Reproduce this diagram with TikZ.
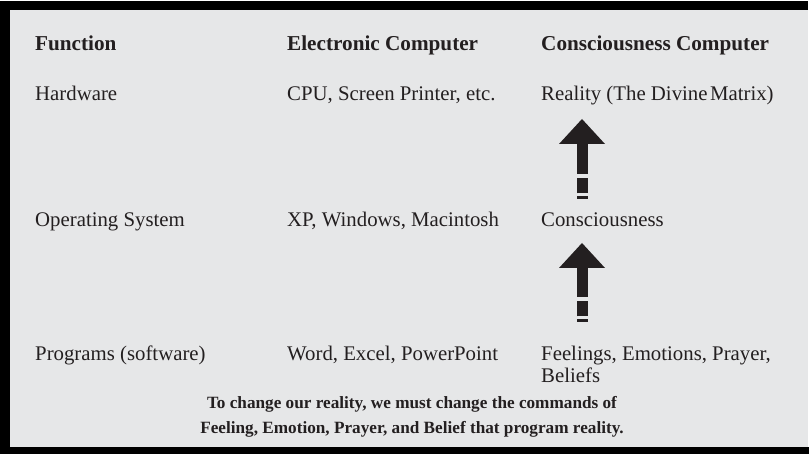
\documentclass[tikz,border=0pt]{standalone}
\usepackage{fontspec}
\setmainfont{Liberation Serif}
\usetikzlibrary{calc}
\definecolor{panel}{HTML}{E6E7E8}
\definecolor{ink}{HTML}{231F20}
\begin{document}
\begin{tikzpicture}[x=1pt,y=-1pt,
  cell/.style={anchor=base west,inner sep=0pt,text=ink,font=\fontsize{20.8}{22}\selectfont},
  colhead/.style={cell,font=\fontsize{21.2}{24}\selectfont\bfseries},
  moral/.style={anchor=base,inner sep=0pt,text=ink,font=\fontsize{17.2}{23}\selectfont\bfseries},
  shaft/.style={ink,line width=11pt,line cap=butt,dash pattern=on 3pt off 2.5pt on 15pt off 4.5pt on 200pt},
  head/.style={fill=ink,draw=none}]
\useasboundingbox (0,0) rectangle (809,454);
% frame and panel
\fill[white] (0,0) rectangle (809,454);
\fill[black] (0,1) rectangle (809,454);
\fill[white] (808,1) rectangle (809,447);
\fill[panel] (10,10) rectangle (808,447);

% column headings
\node[colhead] (hfun) at (35,50.5) {Function};
\node[colhead] (helec) at (287,50.5) {Electronic Computer};
\node[colhead] (hcons) at (541,50.5) {Consciousness Computer};

% rows
\node[cell] (fhw) at (35,100.5) {Hardware};
\node[cell] (ehw) at (287,100.5) {CPU, Screen Printer, etc.};
\node[cell] (chw) at (541,100.5) {Reality (The Divine\hspace{0.12em}Matrix)};

\node[cell] (fos) at (35,227) {Operating System};
\node[cell] (eos) at (287,227) {XP, Windows, Macintosh};
\node[cell] (cos) at (541,227) {Consciousness};

\node[cell] (fpr) at (35,361) {Programs (software)};
\node[cell] (epr) at (287,361) {Word, Excel, PowerPoint};
\node[cell] (cpr) at (541,361) {Feelings, Emotions, Prayer,};
\node[cell] (cpr2) at (541,383) {Beliefs};

% closing statement
\node[moral] (m1) at (412,409) {To change our reality, we must change the commands of};
\node[moral] (m2) at (412,433) {Feeling, Emotion, Prayer, and Belief that program reality.};

% upward arrows: dashed tail, solid shaft, triangular head
\coordinate (a1s) at (582,199);
\coordinate (a1t) at (582,119);
\coordinate (a2s) at (582,322);
\coordinate (a2t) at (582,243);
\foreach \s/\t in {a1s/a1t,a2s/a2t}{
  \draw[shaft] (\s) -- ($(\t)+(0,25)$);
  \fill[head] (\t) -- ($(\t)+(-23,25)$) -- ($(\t)+(23,25)$) -- cycle;
}
\end{tikzpicture}
\end{document}
